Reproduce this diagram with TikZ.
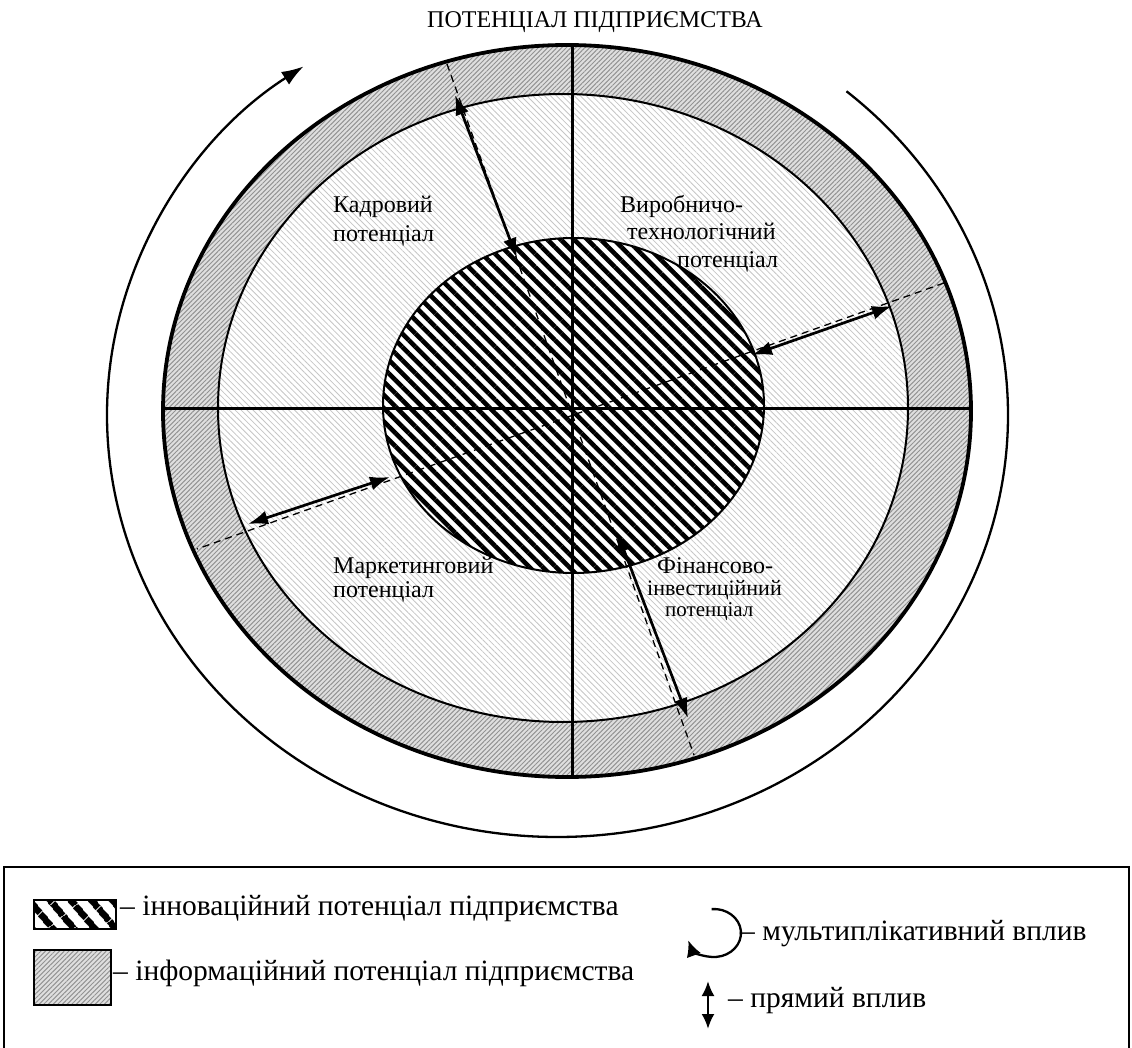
\documentclass[tikz,border=0pt]{standalone}
\usepackage{fontspec}
\setmainfont{Liberation Serif}
\usetikzlibrary{arrows.meta,patterns.meta}

\begin{document}
\begin{tikzpicture}[x=1pt, y=-1pt,
    % === СТИЛІ ===
    ring fill/.style={fill=gray!25, postaction={pattern={Lines[angle=45, distance=3.3pt, line width=1pt]}, pattern color=gray!85}},
    field fill/.style={fill=white, postaction={pattern={Lines[angle=-45, distance=4.2pt, line width=0.8pt]}, pattern color=gray!45}},
    core fill/.style={fill=white, postaction={pattern={Lines[angle=-45, distance=9.4pt, line width=4.6pt]}, pattern color=black}},
    key fill/.style={fill=white, postaction={pattern={Lines[angle=-50, distance=17pt, line width=7.5pt]}, pattern color=black}},
    thin line/.style={line width=2pt},
    thick line/.style={line width=3.8pt},
    axis line/.style={line width=3pt},
    dash line/.style={line width=1.3pt, dash pattern=on 7pt off 5pt},
    impact/.style={line width=2.7pt, {Latex[length=20pt, width=14pt]}-{Latex[length=20pt, width=14pt]}},
    spin/.style={line width=2.3pt, -{Latex[length=22pt, width=15pt]}},
    sector text/.style={font=\fontsize{24}{29}\selectfont, inner sep=0pt, anchor=base west},
    legend text/.style={font=\fontsize{29.5}{34}\selectfont, inner sep=0pt, anchor=base west},
]
    \useasboundingbox (0,0) rectangle (1132,1048);

    % === ЦЕНТРИ ЕЛІПСІВ ===
    \coordinate (O) at (572,408);
    \coordinate (E1) at (567,411);
    \coordinate (E2) at (563,408);
    \coordinate (E3) at (573.5,405.5);
    \coordinate (M) at (557.5,415);

    % === ЗАЛИВКИ ===
    \path[ring fill] (E1) ellipse [x radius=404pt, y radius=366pt];
    \path[field fill] (E2) ellipse [x radius=345pt, y radius=314pt];
    \path[core fill] (E3) ellipse [x radius=190.5pt, y radius=167.5pt];

    % === КОНТУРИ ===
    \draw[thick line] (E1) ellipse [x radius=404pt, y radius=366pt];
    \draw[thin line] (E2) ellipse [x radius=345pt, y radius=314pt];
    \draw[thin line] (E3) ellipse [x radius=190.5pt, y radius=167.5pt];

    % === ОСІ ===
    \coordinate (N) at (572,45);
    \coordinate (S) at (572,777);
    \coordinate (W) at (163,408);
    \coordinate (E) at (971,408);
    \draw[axis line] (N) -- (S);
    \draw[axis line] (W) -- (E);

    % === ПУНКТИРНІ ЛІНІЇ ===
    \coordinate (d1a) at (447,64);
    \coordinate (d1b) at (694,755);
    \coordinate (d2a) at (944,283);
    \coordinate (d2b) at (197,549);
    \draw[dash line] (d1a) -- (d1b);
    \draw[dash line] (d2a) -- (d2b);

    % === ПРЯМИЙ ВПЛИВ ===
    \coordinate (a1s) at (517,258);
    \coordinate (a1e) at (455,95);
    \coordinate (a2s) at (752,355);
    \coordinate (a2e) at (892,306);
    \coordinate (a3s) at (390,477);
    \coordinate (a3e) at (248,524);
    \coordinate (a4s) at (617,532);
    \coordinate (a4e) at (688,718);
    \foreach \a in {1,2,3,4} \draw[impact] (a\a s) -- (a\a e);

    % === МУЛЬТИПЛІКАТИВНИЙ ВПЛИВ ===
    \draw[spin] (M) ++(50.1:450.5pt and 422pt)
        arc[start angle=50.1, end angle=-235.7, x radius=450.5pt, y radius=422pt];

    % === НАЗВИ ===
    \node[font=\fontsize{24}{29}\selectfont, anchor=base, inner sep=0pt] (title) at (595,28) {ПОТЕНЦІАЛ ПІДПРИЄМСТВА};
    \node[sector text] (k1) at (333,213) {Кадровий};
    \node[sector text] (k2) at (333,242) {потенціал};
    \node[sector text] (v1) at (620,213) {Виробничо-};
    \node[sector text] (v2) at (627,240) {технологічний};
    \node[sector text] (v3) at (677,268) {потенціал};
    \node[sector text] (m1) at (333,573) {Маркетинговий};
    \node[sector text] (m2) at (333,597) {потенціал};
    \node[sector text] (f1) at (657,573) {Фінансово-};
    \node[sector text, font=\fontsize{22}{26}\selectfont] (f2) at (647,595) {інвестиційний};
    \node[sector text, font=\fontsize{21}{25}\selectfont] (f3) at (665,616) {потенціал};

    % === ЛЕГЕНДА ===
    \draw[line width=1.8pt] (4,867) rectangle (1129,1070);
    \path[key fill] (34,900) rectangle (116,929);
    \draw[thin line] (34,900) rectangle (116,929);
    \node[legend text] (l1) at (120,915) {– інноваційний потенціал підприємства};
    \path[ring fill] (34,950) rectangle (111,1005);
    \draw[thin line] (34,950) rectangle (111,1005);
    \node[legend text] (l2) at (113,980) {– інформаційний потенціал підприємства};
    \coordinate (c0) at (714,933);
    \draw[line width=2.3pt, -{Latex[length=16pt, width=15pt]}] (c0) ++(95:27pt and 24pt)
        arc[start angle=95, end angle=-162, x radius=27pt, y radius=24pt];
    \node[legend text] (l3) at (740,940) {– мультиплікативний вплив};
    \coordinate (v0) at (708,981);
    \coordinate (v1) at (708,1029);
    \draw[line width=2.5pt, {Latex[length=15pt, width=13pt]}-{Latex[length=15pt, width=13pt]}] (v0) -- (v1);
    \node[legend text] (l4) at (728,1007) {– прямий вплив};
\end{tikzpicture}
\end{document}
